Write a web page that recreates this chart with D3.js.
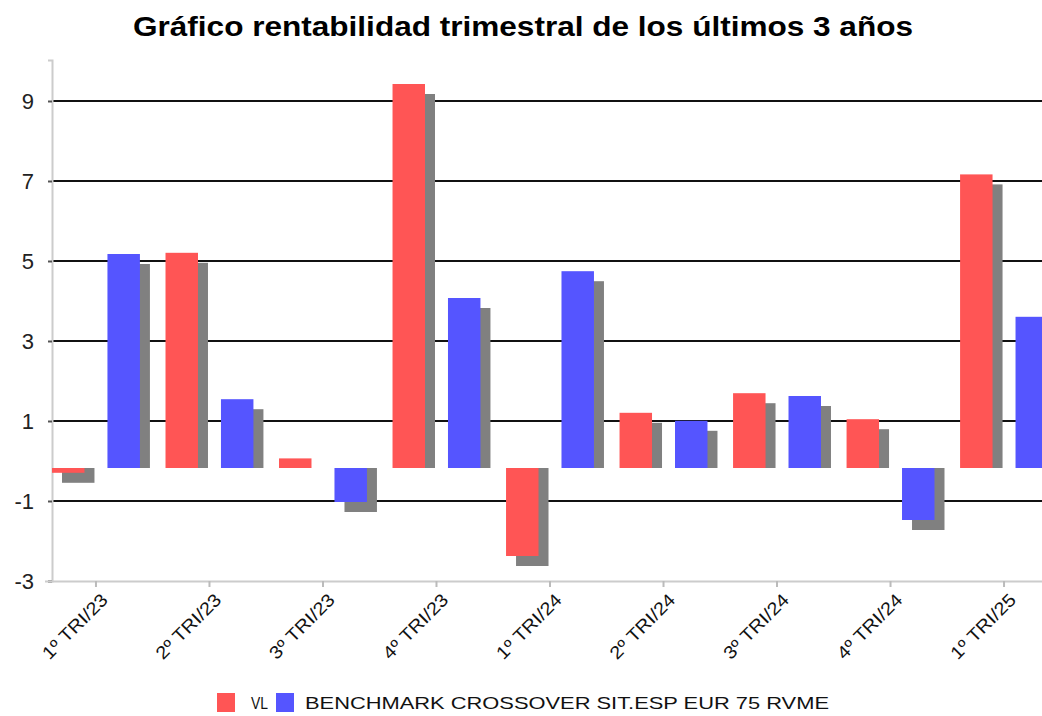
<!DOCTYPE html>
<html>
<head>
<meta charset="utf-8">
<script src="https://cdn.jsdelivr.net/npm/d3@7/dist/d3.min.js"></script>
<style>
  html, body { margin: 0; padding: 0; background: #fff; }
  svg { display: block; }
  text { font-family: "Liberation Sans", Arial, Helvetica, sans-serif; }
</style>
</head>
<body>
<svg id="chart" width="1042" height="716"></svg>
<script>
// ---- data ----
const categories = ["1º TRI/23", "2º TRI/23", "3º TRI/23", "4º TRI/23",
                    "1º TRI/24", "2º TRI/24", "3º TRI/24", "4º TRI/24", "1º TRI/25"];
const seriesNames = ["VL", "BENCHMARK CROSSOVER SIT.ESP EUR 75 RVME"];
const vlValues = [-0.12, 5.38, 0.24, 9.6, -2.2, 1.38, 1.87, 1.22, 7.34];
const bmValues = [5.35, 1.72, -0.85, 4.25, 4.92, 1.18, 1.8, -1.3, 3.78];
const axisMin = -2.825;
const axisMax = 10.2;
const tickStep = 2;
const tickLabels = ["-3", "-1", "1", "3", "5", "7", "9"];
const title = "Gráfico rentabilidad trimestral de los últimos 3 años";

// ---- layout / style ----
const W = 1042, H = 716;
const plot = { left: 52, top: 60, bottom: 581, right: 1048 };
const colors = ["#ff5555", "#5555ff"];
const shadow = { dx: 10, dy: 10, color: "#808080" };

const svg = d3.select("#chart");
svg.append("rect").attr("width", W).attr("height", H).attr("fill", "#fff");

const tickValues = tickLabels.map((_, i) => axisMin + i * tickStep);

const y = d3.scaleLinear().domain([axisMin, axisMax]).range([plot.bottom, plot.top]);
const x0 = d3.scaleBand().domain(categories).range([plot.left, plot.right])
  .paddingInner(0.2254).paddingOuter(0);
const x1 = d3.scaleBand().domain(seriesNames).range([0, x0.bandwidth()])
  .paddingInner(0.4144).paddingOuter(0);

// title
svg.append("text")
  .attr("x", 523).attr("y", 36)
  .attr("text-anchor", "middle")
  .attr("font-size", 28).attr("font-weight", "bold").attr("fill", "#000")
  .attr("textLength", 780).attr("lengthAdjust", "spacingAndGlyphs")
  .text(title);

// clip for plot
svg.append("defs").append("clipPath").attr("id", "plotclip")
  .append("rect").attr("x", plot.left).attr("y", plot.top - 30)
  .attr("width", W - plot.left).attr("height", plot.bottom - plot.top + 30);

// gridlines (skip axis min)
svg.append("g").selectAll("line")
  .data(tickValues.slice(1))
  .join("line")
  .attr("x1", plot.left).attr("x2", W)
  .attr("y1", d => y(d)).attr("y2", d => y(d))
  .attr("stroke", "#111").attr("stroke-width", 2);

// y axis
const yAxis = d3.axisLeft(y).tickValues(tickValues)
  .tickFormat((d, i) => tickLabels[i]).tickSize(4).tickPadding(14);
const gy = svg.append("g").attr("transform", `translate(${plot.left},0)`).call(yAxis);
gy.select(".domain").attr("stroke", "#cccccc").attr("stroke-width", 2);
gy.selectAll(".tick line").attr("stroke", "#555").attr("stroke-width", 2);
gy.selectAll(".tick text").attr("font-size", 22).attr("fill", "#222")
  .style("font-family", "'Liberation Sans', Arial, sans-serif");

// x axis
const xAxis = d3.axisBottom(x0).tickSize(6).tickSizeOuter(0).tickFormat("");
const gx = svg.append("g").attr("transform", `translate(0,${plot.bottom})`).call(xAxis);
gx.select(".domain").attr("stroke", "#cccccc").attr("stroke-width", 2)
  .attr("d", `M${plot.left - 7},0.5H${W}`);
gx.selectAll(".tick line").attr("stroke", "#bbbbbb").attr("stroke-width", 2);
gx.selectAll(".tick").append("text")
  .attr("transform", "translate(13,20) rotate(-45)")
  .attr("text-anchor", "end")
  .attr("font-size", 18).attr("fill", "#111")
  .attr("textLength", 84).attr("lengthAdjust", "spacingAndGlyphs")
  .style("font-family", "'Liberation Sans', Arial, sans-serif")
  .text(d => d);

// bars
const rows = categories.map((c, i) => ({ cat: c, vals: [vlValues[i], bmValues[i]] }));
const gBars = svg.append("g").attr("clip-path", "url(#plotclip)");
const groups = gBars.selectAll("g.grp").data(rows).join("g")
  .attr("class", "grp")
  .attr("transform", d => `translate(${x0(d.cat)},0)`);

const items = d => d.vals.map((v, j) => ({ name: seriesNames[j], v, j }));

// shadows (pegged to base)
groups.selectAll("rect.sh").data(items).join("rect")
  .attr("class", "sh")
  .attr("x", d => x1(d.name) + shadow.dx)
  .attr("width", x1.bandwidth())
  .attr("y", d => d.v >= 0 ? Math.min(y(d.v) + shadow.dy, y(0)) : y(0))
  .attr("height", d => d.v >= 0 ? Math.max(0, y(0) - (y(d.v) + shadow.dy))
                                : (y(d.v) + shadow.dy) - y(0))
  .attr("fill", shadow.color);

groups.selectAll("rect.bar").data(items).join("rect")
  .attr("class", "bar")
  .attr("x", d => x1(d.name))
  .attr("width", x1.bandwidth())
  .attr("y", d => Math.min(y(d.v), y(0)))
  .attr("height", d => Math.abs(y(d.v) - y(0)))
  .attr("fill", d => colors[d.j]);

// legend
const legend = svg.append("g");
const legItems = [
  { name: seriesNames[0], x: 217, tx: 251, len: 17 },
  { name: seriesNames[1], x: 276, tx: 305, len: 524 }
];
legItems.forEach((it, j) => {
  legend.append("rect").attr("x", it.x).attr("y", 693).attr("width", 18).attr("height", 19)
    .attr("fill", colors[j]);
  legend.append("text").attr("x", it.tx).attr("y", 709)
    .attr("font-size", 17).attr("fill", "#111")
    .attr("textLength", it.len).attr("lengthAdjust", "spacingAndGlyphs")
    .text(it.name);
});
</script>
</body>
</html>
